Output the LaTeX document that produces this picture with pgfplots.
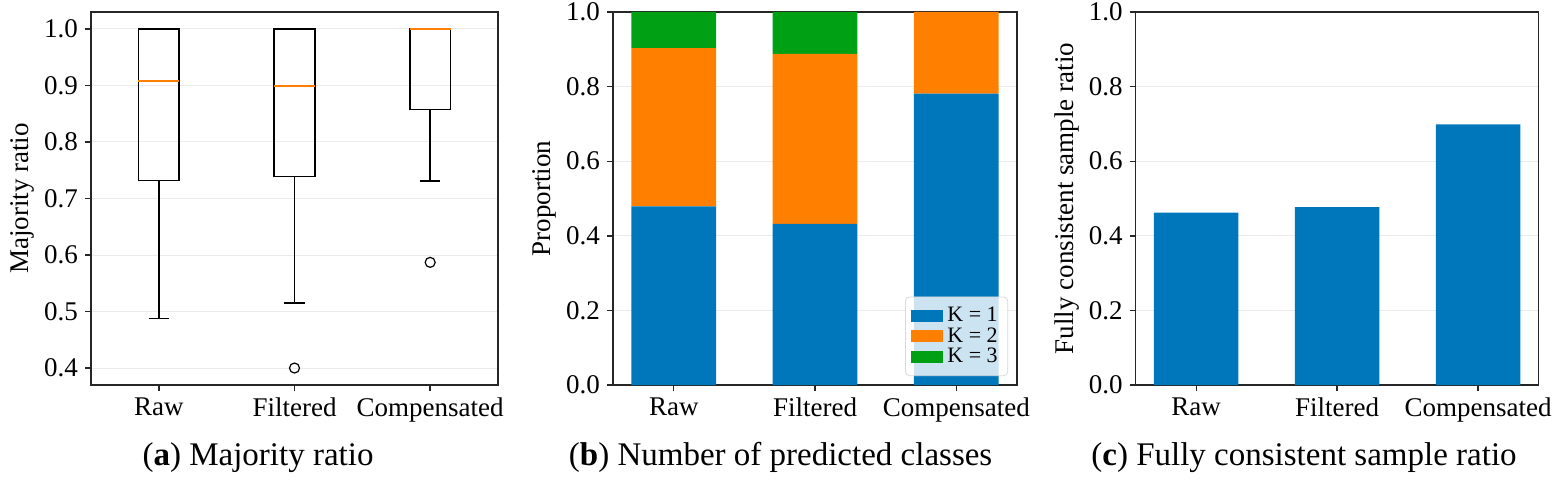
\documentclass[border=0pt]{standalone}
\usepackage{fontspec}
\setmainfont{Liberation Serif}
\usepackage{pgfplots}
\pgfplotsset{compat=1.18}
\usepgfplotslibrary{statistics}
\definecolor{cblue}{RGB}{0,119,187}
\definecolor{corange}{RGB}{255,127,0}
\definecolor{cgreen}{RGB}{0,160,20}
\definecolor{gridgray}{RGB}{235,235,235}
\pgfplotsset{
  common/.style={
    scale only axis,
    axis line style={line width=0.7pt, black!85},
    tick style={line width=0.7pt, black!85},
    tick align=outside,
    major tick length=3pt,
    xtick pos=bottom, ytick pos=left,
    ymajorgrids, grid style={gridgray, line width=0.5pt},
    /pgf/number format/assume math mode=true,
    /pgf/number format/fixed,
    /pgf/number format/fixed zerofill,
    /pgf/number format/precision=1,
    ticklabel style={font=\fontsize{13.5}{15}\selectfont},
    ylabel style={font=\fontsize{13.5}{15}\selectfont, at={([xshift=-34.5pt]rel axis cs:0,0.5)}, anchor=center},
    xtick={0,1,2},
    xticklabels={Raw,Filtered,Compensated},
  },
  barlegend/.style={legend image code/.code={\fill[##1, sharp corners, fill opacity=1] (0pt,-3pt) rectangle (16pt,3pt);}},
}
\begin{document}
\begin{tikzpicture}
\path[use as bounding box] (0,0) rectangle (780.5pt,241.5pt);

% (a) box plots
\begin{axis}[common, at={(45.5pt,49pt)}, anchor=south west,
  width=203.5pt, height=186.5pt,
  xmin=0.5, xmax=3.5, ymin=0.37, ymax=1.03,
  xtick={1,2,3},
  ytick={0.4,0.5,0.6,0.7,0.8,0.9,1.0},
  ylabel={Majority ratio},
  boxplot/draw direction=y,
  boxplot/box extend=0.3,
  boxplot/whisker extend=0.15]
\addplot[black, line width=0.7pt, boxplot/every median/.style={draw=corange, line width=0.8pt},
  boxplot prepared={draw position=1, median=0.908, lower quartile=0.732, upper quartile=1.0, lower whisker=0.488, upper whisker=1.0}] coordinates {};
\addplot[black, line width=0.7pt, boxplot/every median/.style={draw=corange, line width=0.8pt},
  boxplot prepared={draw position=2, median=0.899, lower quartile=0.739, upper quartile=1.0, lower whisker=0.515, upper whisker=1.0}] coordinates {};
\addplot[black, line width=0.7pt, boxplot/every median/.style={draw=corange, line width=0.8pt},
  boxplot prepared={draw position=3, median=1.0, lower quartile=0.858, upper quartile=1.0, lower whisker=0.731, upper whisker=1.0}] coordinates {};
\addplot[only marks, mark=o, mark size=2.5pt, black, line width=0.6pt] coordinates {(2,0.400) (3,0.587)};
\end{axis}

% (b) stacked bars
\begin{axis}[common, at={(306.5pt,49pt)}, anchor=south west,
  width=202pt, height=186.5pt,
  ybar stacked, bar width=0.6,
  xmin=-0.43, xmax=2.43, ymin=0, ymax=1,
  ytick={0,0.2,0.4,0.6,0.8,1.0},
  ylabel={Proportion},
  barlegend,
  legend cell align=left,
  legend style={font=\fontsize{11}{12}\selectfont, at={(0.978,0.024)}, anchor=south east,
    draw=black!15, fill=white, fill opacity=0.8, text opacity=1, rounded corners=2pt,
    row sep=-2.5pt, inner sep=3pt}]
\addplot[fill=cblue, draw=none] coordinates {(0,0.479) (1,0.432) (2,0.781)};
\addlegendentry{K = 1}
\addplot[fill=corange, draw=none] coordinates {(0,0.424) (1,0.456) (2,0.219)};
\addlegendentry{K = 2}
\addplot[fill=cgreen, draw=none] coordinates {(0,0.097) (1,0.112) (2,0.0)};
\addlegendentry{K = 3}
\end{axis}

% (c) bars
\begin{axis}[common, at={(567.8pt,49pt)}, anchor=south west,
  width=201.5pt, height=186.5pt,
  ybar, bar width=0.6,
  xmin=-0.43, xmax=2.43, ymin=0, ymax=1,
  ytick={0,0.2,0.4,0.6,0.8,1.0},
  ylabel={Fully consistent sample ratio}]
\addplot[fill=cblue, draw=none] coordinates {(0,0.462) (1,0.477) (2,0.699)};
\end{axis}

\node[anchor=base, font=\fontsize{16.5}{19}\selectfont] at (129pt,9pt) {(\textbf{a}) Majority ratio};
\node[anchor=base, font=\fontsize{16.5}{19}\selectfont] at (390.3pt,9pt) {(\textbf{b}) Number of predicted classes};
\node[anchor=base, font=\fontsize{16.5}{19}\selectfont] at (652pt,9pt) {(\textbf{c}) Fully consistent sample ratio};
\end{tikzpicture}
\end{document}
